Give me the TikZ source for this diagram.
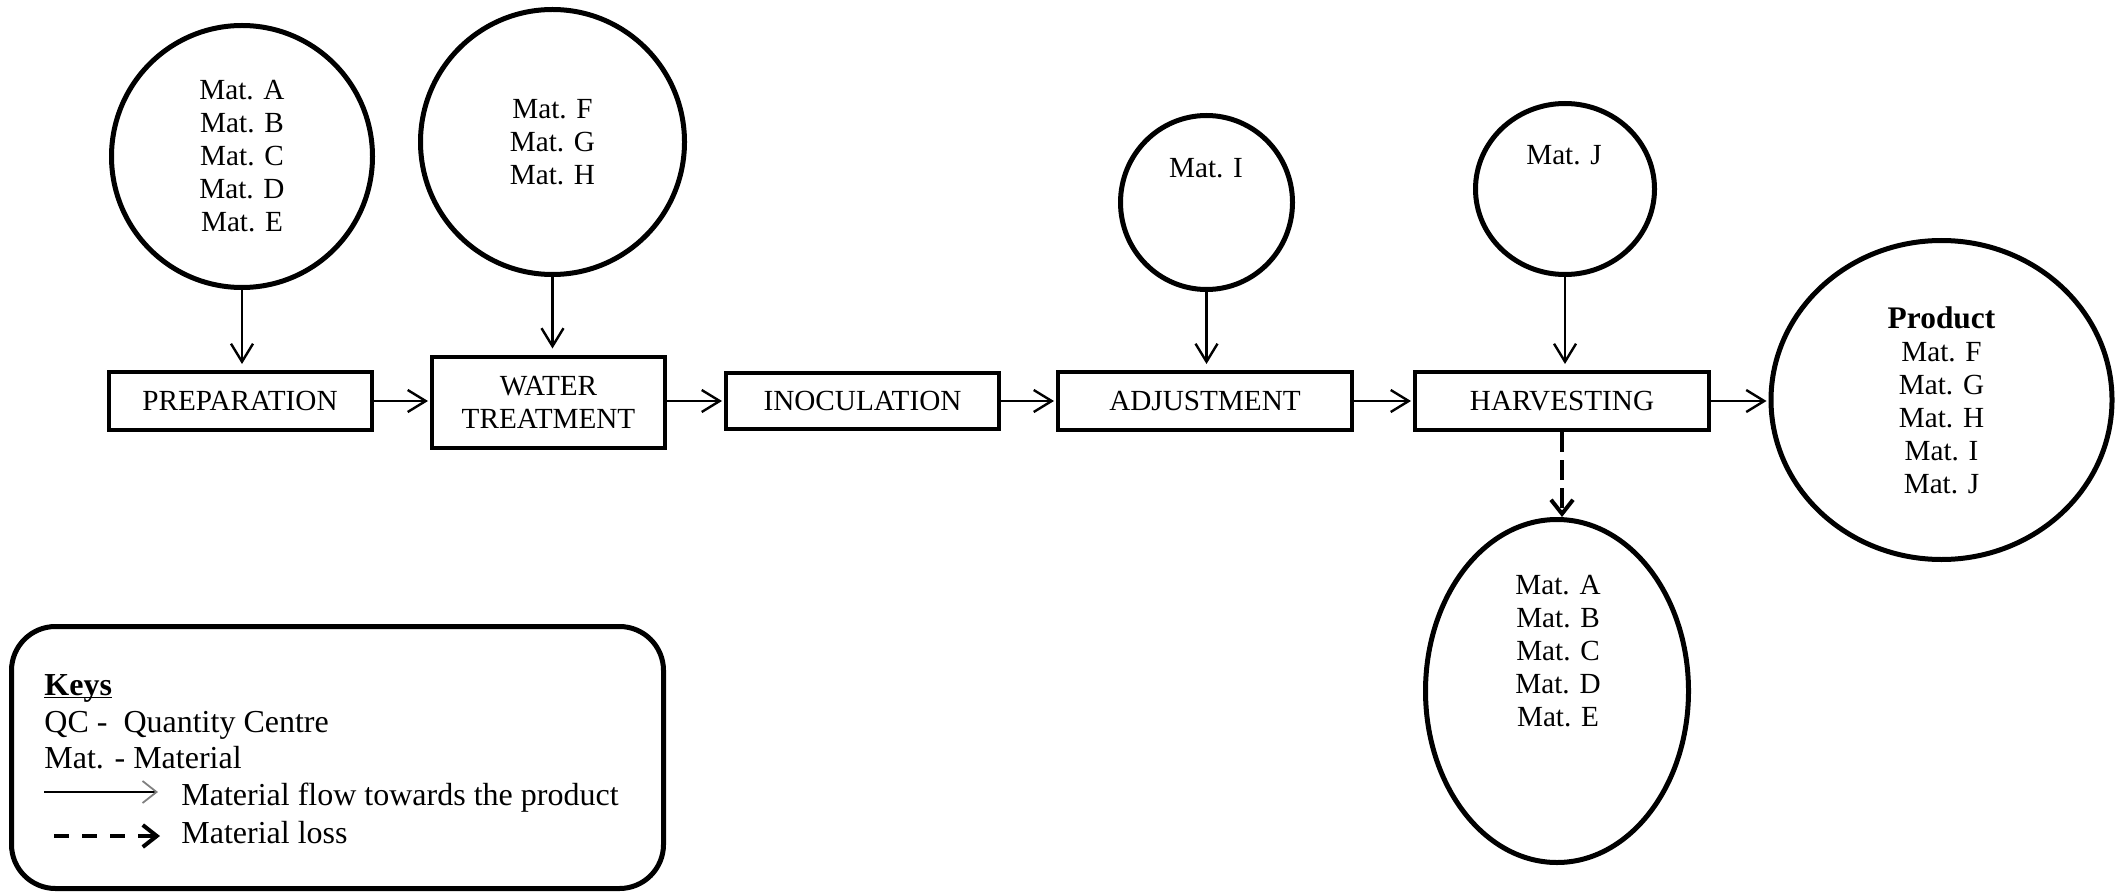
\documentclass[tikz,border=0pt]{standalone}
\usepackage{fontspec}
\setmainfont{Liberation Serif}
\usetikzlibrary{shapes.geometric,arrows.meta}
\newcommand{\diagfont}{\fontsize{14.6}{16.5}\selectfont}
\newcommand{\keyfont}{\fontsize{16}{18}\selectfont}
\begin{document}
\begin{tikzpicture}[x=0.5pt,y=-0.5pt,
  mat/.style={ellipse,draw,line width=2.5pt,inner sep=0pt,align=center,font=\diagfont},
  proc/.style={rectangle,draw,line width=2pt,inner sep=0pt,align=center,font=\diagfont},
  txt/.style={inner sep=0pt,align=center,font=\diagfont},
  ltxt/.style={inner sep=0pt,anchor=base west,font=\keyfont},
  flow/.style={line width=1.2pt,-{Straight Barb[length=9pt,width=11pt]},shorten >=1pt},
  lossarrow/.style={line width=2pt,dash pattern=on 10pt off 4pt,-{Straight Barb[length=7pt,width=11pt]}},
]
\useasboundingbox (0,0) rectangle (2118,893);

% material circles
\node[mat,minimum width=130.5pt,minimum height=131pt] (c1) at (242,156.5)
  {Mat. A\\Mat. B\\Mat. C\\Mat. D\\Mat. E};
\node[mat,minimum width=132pt,minimum height=132.5pt] (c2) at (552.5,142)
  {Mat. F\\Mat. G\\Mat. H};
\node[mat,minimum width=86pt,minimum height=87pt] (ci) at (1206.5,202.5) {};
\node[txt] (ti) at (1206,168) {Mat. I};
\node[mat,minimum width=89.5pt,minimum height=85.5pt] (cj) at (1565,189) {};
\node[txt] (tj) at (1564,155) {Mat. J};
\node[mat,minimum width=170.5pt,minimum height=159.5pt] (prod) at (1941.5,400)
  {{\fontsize{15.7}{16.5}\selectfont\textbf{Product}}\\Mat. F\\Mat. G\\Mat. H\\Mat. I\\Mat. J};
\node[mat,minimum width=131.5pt,minimum height=171.5pt] (lossc) at (1557,691) {};
\node[txt] (tloss) at (1558,651) {Mat. A\\Mat. B\\Mat. C\\Mat. D\\Mat. E};

% process boxes
\node[proc,minimum width=131.5pt,minimum height=29pt] (prep) at (240,401) {PREPARATION};
\node[proc,minimum width=116.5pt,minimum height=45.5pt] (water) at (548.5,402) {WATER\\TREATMENT};
\node[proc,minimum width=136.5pt,minimum height=28pt] (inoc) at (862.5,401) {INOCULATION};
\node[proc,minimum width=147pt,minimum height=29pt] (adj) at (1205,401) {ADJUSTMENT};
\node[proc,minimum width=147pt,minimum height=29pt] (harv) at (1562,401) {HARVESTING};

% vertical inputs
\draw[flow,shorten >=3pt] (c1.south) -- (c1.south |- prep.north);
\draw[flow,shorten >=3pt] (c2.south) -- (c2.south |- water.north);
\draw[flow,shorten >=3pt] (ci.south) -- (ci.south |- adj.north);
\draw[flow,shorten >=3pt] (cj.south) -- (cj.south |- harv.north);

% horizontal flow
\draw[flow] (prep.east) -- (prep.east -| water.west);
\draw[flow] (inoc.west -| water.east) -- (inoc.west);
\draw[flow] (inoc.east) -- (adj.west);
\draw[flow] (adj.east) -- (harv.west);
\draw[flow] (harv.east) -- (harv.east -| prod.west);

% material loss
\draw[lossarrow] (harv.south) -- (harv.south |- lossc.north);

% keys
\node[draw,line width=2.5pt,rounded corners=22pt,minimum width=326pt,minimum height=131pt,inner sep=0pt] (keybox) at (337.5,757.5) {};
\node[ltxt] (keys) at (44,695) {\underline{\smash{\textbf{Keys}}}};
\node[ltxt] (qc) at (44,732) {QC -\ \ Quantity Centre};
\node[ltxt] (matk) at (44,768) {Mat. - Material};
\node[ltxt] (flowt) at (181,805) {Material flow towards the product};
\node[ltxt] (losst) at (181,843) {Material loss};
\coordinate (fa1) at (44,792);
\coordinate (fa2) at (158,792);
\coordinate (la1) at (54,836);
\coordinate (la2) at (160,836);
\draw[line width=0.9pt,-{Straight Barb[length=7pt,width=11pt,color=gray]}] (fa1) -- (fa2);
\draw[line width=2pt,dash pattern=on 7.5pt off 6.5pt,-{Straight Barb[length=7pt,width=11pt]}] (la1) -- (la2);
\end{tikzpicture}
\end{document}
